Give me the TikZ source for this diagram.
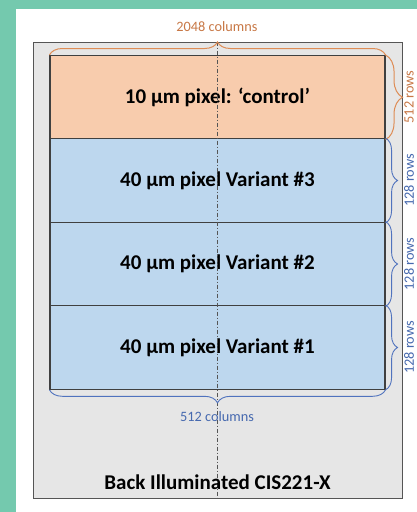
\documentclass[tikz,border=0pt]{standalone}
\usepackage{fontspec}
\setmainfont{Carlito}
\usetikzlibrary{decorations.pathreplacing}
\definecolor{teal}{RGB}{116,201,174}
\definecolor{chipgray}{RGB}{230,230,230}
\definecolor{edgegray}{RGB}{85,85,85}
\definecolor{orfill}{RGB}{248,204,173}
\definecolor{orline}{RGB}{222,140,85}
\definecolor{ortext}{RGB}{200,120,70}
\definecolor{blfill}{RGB}{189,215,238}
\definecolor{blline}{RGB}{80,115,190}
\definecolor{bltext}{RGB}{70,105,175}
\begin{document}
\begin{tikzpicture}[x=1pt,y=-1pt,
  region/.style={draw=black!75,line width=1.1pt,minimum width=335pt,minimum height=83.5pt,inner sep=0pt,font=\bfseries\fontsize{21}{24}\selectfont},
  obrace/.style={decorate,decoration={brace,amplitude=#1},draw=orline,line width=1pt},
  bbrace/.style={decorate,decoration={brace,amplitude=#1},draw=blline,line width=0.9pt},
  olabel/.style={text=ortext,font=\fontsize{14.3}{16}\selectfont,inner sep=0pt},
  blabel/.style={text=bltext,font=\fontsize{14.3}{16}\selectfont,inner sep=0pt}]
\useasboundingbox (0,0) rectangle (417,512);
\fill[teal] (0,0) rectangle (417,512);
\fill[white] (16,9) rectangle (417,512);
\node[draw=edgegray,fill=chipgray,line width=1pt,minimum width=369pt,minimum height=456pt,inner sep=0pt] (chip) at (217.5,270) {};
\node[region,fill=orfill] (r0) at (217.5,97.3) {10 µm pixel: ‘control’};
\node[region,fill=blfill] (r3) at (217.5,180.5) {40 µm pixel Variant \#3};
\node[region,fill=blfill] (r2) at (217.5,264) {40 µm pixel Variant \#2};
\node[region,fill=blfill] (r1) at (217.5,347.5) {40 µm pixel Variant \#1};
\draw[edgegray,line width=1pt,dash pattern=on 4pt off 2pt on 1pt off 2pt] (chip.north) -- (chip.south);
\draw[obrace=13pt] (r0.north west) -- (r0.north east);
\draw[obrace=17pt] (r0.north east) -- (r0.south east);
\draw[bbrace=12pt] (r3.north east) -- (r3.south east);
\draw[bbrace=12pt] (r2.north east) -- (r2.south east);
\draw[bbrace=12pt] (r1.north east) -- (r1.south east);
\draw[bbrace=13pt] (r1.south east) -- (r1.south west);
\node[olabel] (l0) at (217,27) {2048 columns};
\node[olabel,rotate=90] (l1) at (409,97) {512 rows};
\node[blabel,rotate=90] (l2) at (409,180.5) {128 rows};
\node[blabel,rotate=90] (l3) at (409,264) {128 rows};
\node[blabel,rotate=90] (l4) at (409,347.5) {128 rows};
\node[blabel] (l5) at (217,417) {512 columns};
\node[font=\bfseries\fontsize{21}{24}\selectfont,inner sep=0pt] (title) at (217.5,482) {Back Illuminated CIS221-X};
\end{tikzpicture}
\end{document}
